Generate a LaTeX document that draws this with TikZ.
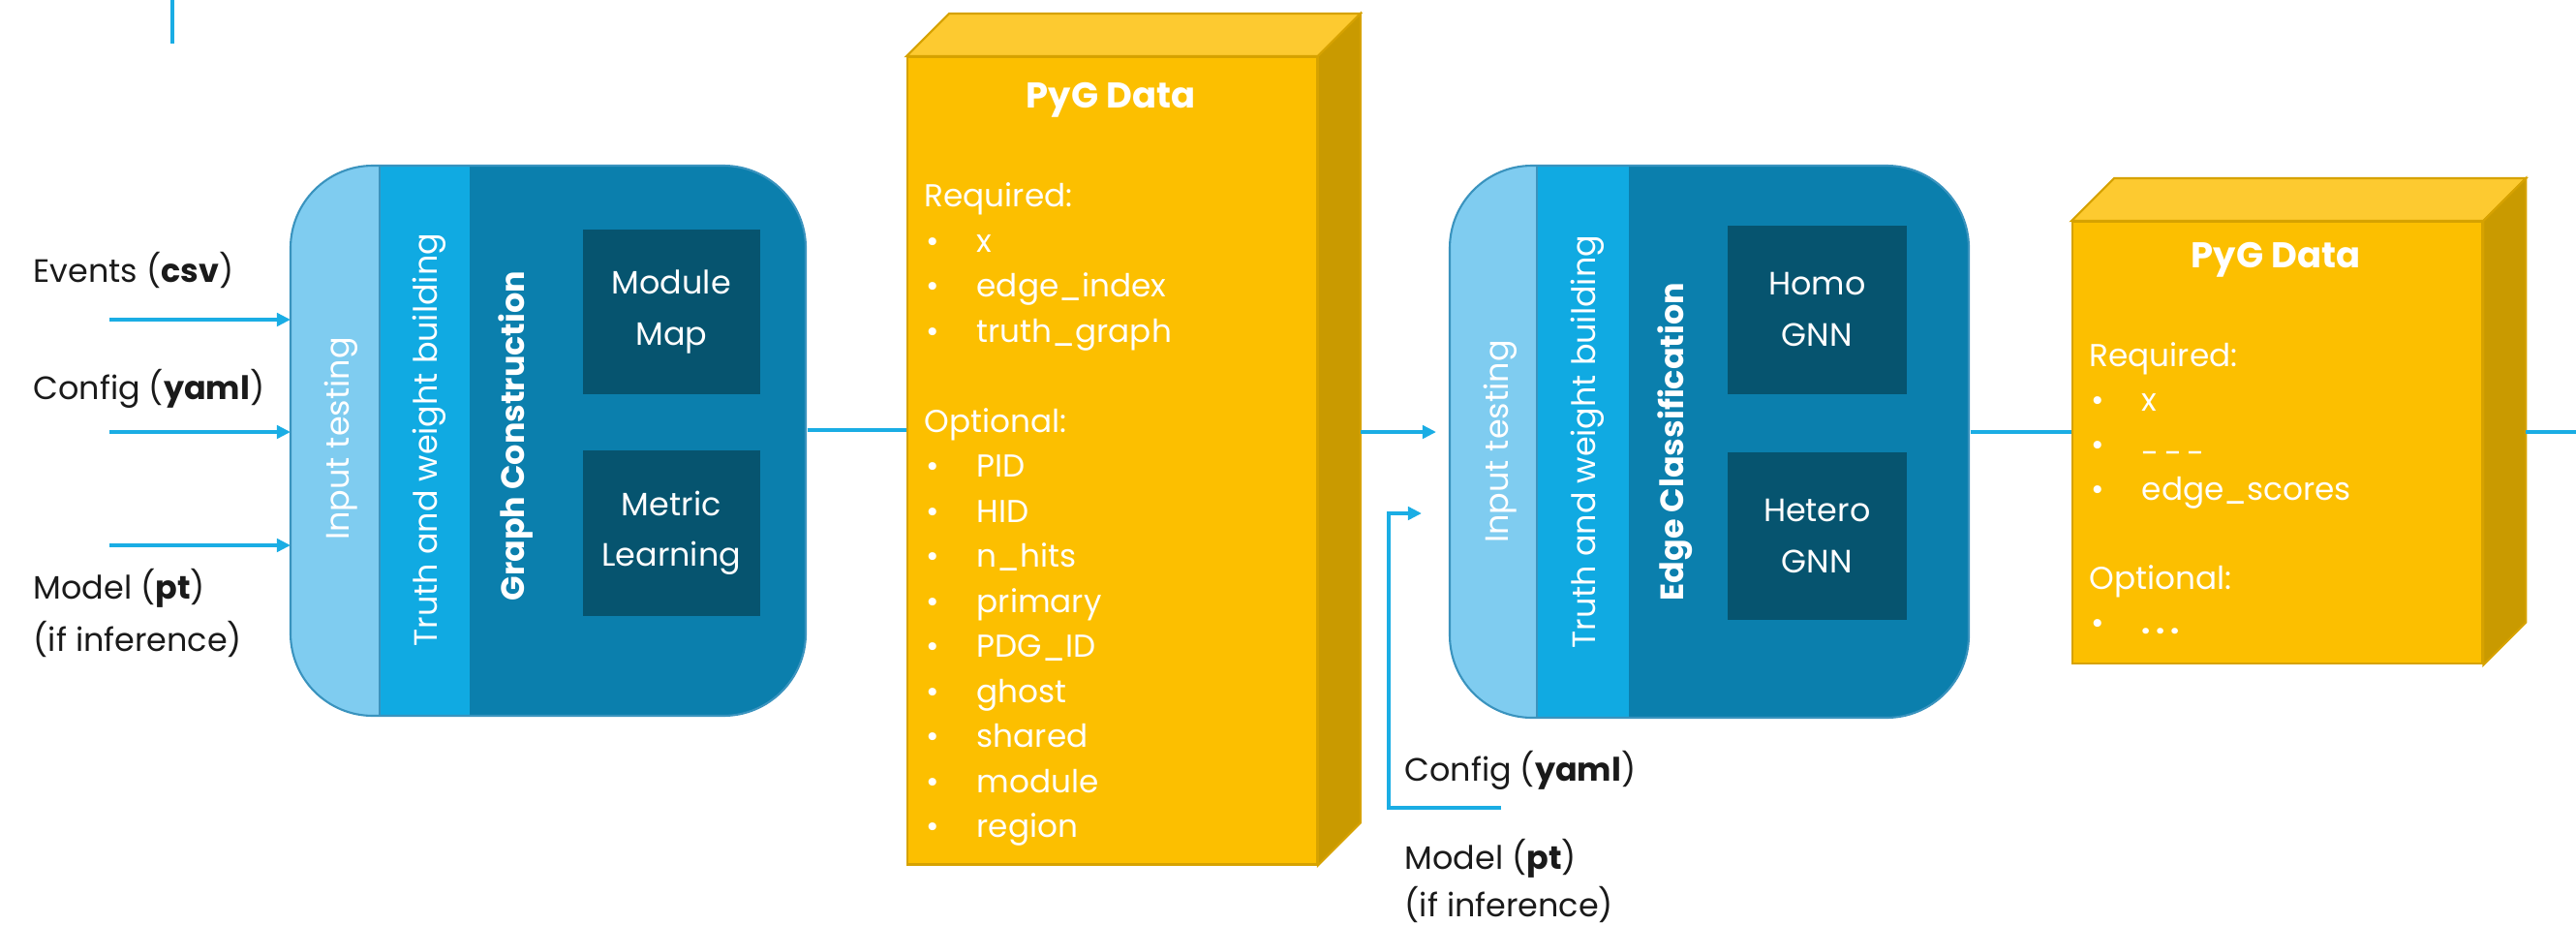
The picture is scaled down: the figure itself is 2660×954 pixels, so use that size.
\documentclass[tikz,border=0pt]{standalone}
\usepackage{fontspec}
\setmainfont{Poppins}
\usetikzlibrary{arrows.meta}
\definecolor{inpc}{HTML}{7FCCF0}
\definecolor{truc}{HTML}{10AAE2}
\definecolor{mainc}{HTML}{0B7FAD}
\definecolor{innc}{HTML}{06546F}
\definecolor{edgec}{HTML}{3A93BE}
\definecolor{linec}{HTML}{1AADE4}
\definecolor{yfront}{HTML}{FCBF00}
\definecolor{ytop}{HTML}{FDCA30}
\definecolor{yside}{HTML}{C99A00}
\definecolor{yedge}{HTML}{D6A200}
\definecolor{txtc}{HTML}{1A1A1A}
\begin{document}
\begin{tikzpicture}[x=0.01cm,y=-0.01cm,
 conn/.style={draw=linec,line width=1pt},
 arr/.style={conn,-{Triangle[length=4pt,width=3.8pt]}},
 lbl/.style={anchor=west,text=txtc,font=\fontsize{9.5}{11}\selectfont,inner sep=0,text height=1.6ex,text depth=0.5ex},
 vtxt/.style={rotate=90,text=white,font=\fontsize{9.5}{11}\selectfont,inner sep=0,text height=1.6ex,text depth=0.5ex},
 vbold/.style={vtxt,font=\bfseries\fontsize{9.5}{11}\selectfont},
 inbox/.style={fill=innc,text=white,align=center,font=\fontsize{9.5}{15}\selectfont,inner sep=0,anchor=north west},
 pyt/.style={anchor=west,text=white,font=\fontsize{9.3}{11}\selectfont,inner sep=0,text height=1.6ex,text depth=0.5ex},
 pyh/.style={text=white,font=\bfseries\fontsize{10.5}{12}\selectfont,inner sep=0},
 front/.style={fill=yfront,draw=yedge,line width=0.6pt,inner sep=0,anchor=north west},
 topf/.style={fill=ytop,draw=yedge,line width=0.6pt},
 sidef/.style={fill=yside,draw=yedge,line width=0.6pt},
]
\useasboundingbox (0,0) rectangle (2660,954);
\coordinate (ya) at (0,444);
\coordinate (yb) at (0,446);

% top-left stray line
\coordinate (tl0) at (178,0);
\coordinate (tl1) at (178,45);
\draw[conn] (tl0) -- (tl1);

% ---------- Block 1 ----------
\node[inner sep=0,minimum width=5.32cm,minimum height=5.68cm,anchor=north west] (b1) at (300,171) {};
\begin{scope}
\clip[rounded corners=0.85cm] (300,171) rectangle (832,739);
\fill[mainc] (300,171) rectangle (832,739);
\fill[inpc] (300,171) rectangle (392,739);
\fill[truc] (392,171) rectangle (485,739);
\draw[edgec,line width=0.4pt] (392,171) -- (392,739);
\end{scope}
\draw[edgec,line width=0.6pt,rounded corners=0.85cm] (300,171) rectangle (832,739);
\node[vtxt] (b1in) at (350,453) {Input testing};
\node[vtxt] (b1tr) at (441,454) {Truth and weight building};
\node[vbold] (b1gc) at (531,450) {Graph Construction};
\node[inbox,minimum width=1.83cm,minimum height=1.70cm] (mm) at (601,236) {Module\\Map};
\node[inbox,minimum width=1.83cm,minimum height=1.71cm] (ml) at (601,464) {Metric\\Learning};

% inputs of block 1
\node[lbl] (ev) at (34,281) {Events (\textbf{csv})};
\node[lbl] (cf) at (34,402) {Config (\textbf{yaml})};
\node[lbl] (md) at (34,608) {Model (\textbf{pt})};
\node[lbl] (mdi) at (34,662) {(if inference)};
\coordinate (a1) at (113,330);
\coordinate (a2) at (113,446);
\coordinate (a3) at (113,563);
\draw[arr] (a1) -- (b1.west |- a1);
\draw[arr] (a2) -- (b1.west |- a2);
\draw[arr] (a3) -- (b1.west |- a3);

% ---------- PyG Data 1 ----------
\node[front,minimum width=4.225cm,minimum height=8.33cm] (py1) at (936,58) {};
\fill[topf] (py1.north west) -- ++(44,-44) -- ([shift={(44,-44)}]py1.north east) -- (py1.north east) -- cycle;
\fill[sidef] (py1.north east) -- ([shift={(44,-44)}]py1.north east) -- ([shift={(44,-44)}]py1.south east) -- (py1.south east) -- cycle;
\coordinate (py1s) at ([xshift=0.44cm]py1.east);
\node[pyh] (py1h) at (1147,103) {PyG Data};
\node[pyt] (py1r) at (954,203) {Required:};
\node[pyt] (py1o) at (954,435.5) {Optional:};
\foreach \t/\yy [count=\i] in {x/249.5,edge\_index/296,truth\_graph/342.5,PID/482,HID/528.5,n\_hits/575,primary/621.5,PDG\_ID/668,ghost/714.5,shared/761,module/807.5,region/854}{
  \node[pyt] (py1b\i) at (956,\yy) {•};
  \node[pyt] (py1t\i) at (1008,\yy) {\t};
}
\draw[conn] (b1.east |- ya) -- (py1.west |- ya);

% ---------- Block 2 ----------
\node[inner sep=0,minimum width=5.36cm,minimum height=5.70cm,anchor=north west] (b2) at (1497,171) {};
\begin{scope}
\clip[rounded corners=0.85cm] (1497,171) rectangle (2033,741);
\fill[mainc] (1497,171) rectangle (2033,741);
\fill[inpc] (1497,171) rectangle (1587,741);
\fill[truc] (1587,171) rectangle (1682,741);
\draw[edgec,line width=0.4pt] (1587,171) -- (1587,741);
\end{scope}
\draw[edgec,line width=0.6pt,rounded corners=0.85cm] (1497,171) rectangle (2033,741);
\node[vtxt] (b2in) at (1547,456) {Input testing};
\node[vtxt] (b2tr) at (1637,456) {Truth and weight building};
\node[vbold] (b2ec) at (1728,456) {Edge Classification};
\node[inbox,minimum width=1.85cm,minimum height=1.74cm] (hom) at (1783,232) {Homo\\GNN};
\node[inbox,minimum width=1.85cm,minimum height=1.73cm] (het) at (1783,466) {Hetero\\GNN};

\coordinate (a4) at (1483,446);
\draw[arr] (py1s |- yb) -- (a4);
\node[lbl] (cf2) at (1450,796) {Config (\textbf{yaml})};
\node[lbl] (md2) at (1450,887) {Model (\textbf{pt})};
\node[lbl] (md2i) at (1450,936) {(if inference)};
\coordinate (c0) at (1550,834);
\coordinate (c1) at (1434,834);
\coordinate (c2) at (1434,530);
\coordinate (c3) at (1468,530);
\draw[arr] (c0) -- (c1) -- (c2) -- (c3);

% ---------- PyG Data 2 ----------
\node[front,minimum width=4.23cm,minimum height=4.56cm] (py2) at (2139,228) {};
\fill[topf] (py2.north west) -- ++(44,-44) -- ([shift={(44,-44)}]py2.north east) -- (py2.north east) -- cycle;
\fill[sidef] (py2.north east) -- ([shift={(44,-44)}]py2.north east) -- ([shift={(44,-44)}]py2.south east) -- (py2.south east) -- cycle;
\coordinate (py2s) at ([xshift=0.44cm]py2.east);
\node[pyh] (py2h) at (2350,268) {PyG Data};
\node[pyt] (py2r) at (2157,368) {Required:};
\node[pyt] (py2b1) at (2159,414) {•};
\node[pyt] (py2t1) at (2211,414) {x};
\node[pyt] (py2b2) at (2159,460) {•};
\node[pyt] (py2t2) at (2211,460) {\raisebox{-0.5ex}{-\,-\,-}};
\node[pyt] (py2b3) at (2159,506) {•};
\node[pyt] (py2t3) at (2211,506) {edge\_scores};
\node[pyt] (py2o) at (2157,598) {Optional:};
\node[pyt] (py2b4) at (2159,644) {•};
\node[pyt] (py2t4) at (2211,644) {\textbf{.\hspace{0.18em}.\hspace{0.18em}.}};
\draw[conn] (b2.east |- yb) -- (py2.west |- yb);
\coordinate (e) at (2660,446);
\draw[conn] (py2s |- yb) -- (e);
\end{tikzpicture}
\end{document}
